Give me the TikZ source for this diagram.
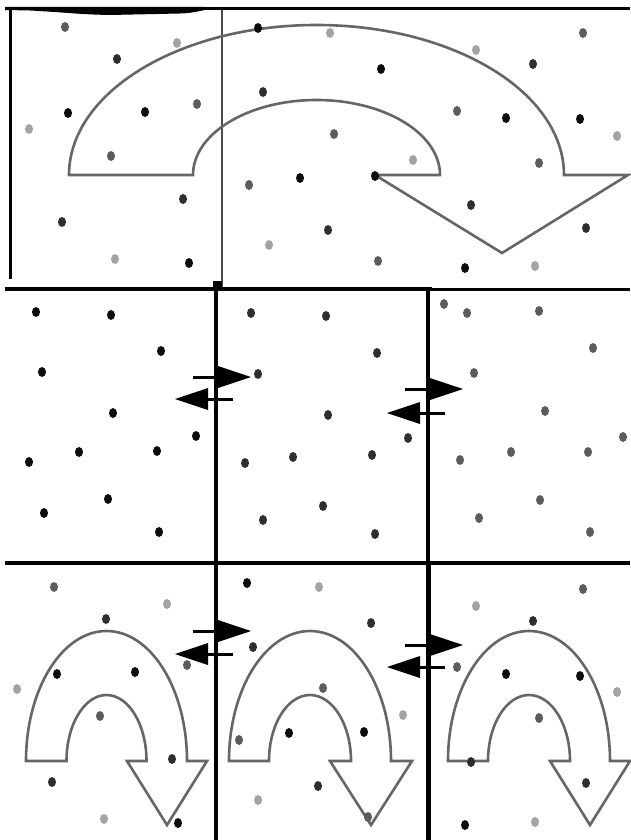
\documentclass[tikz,border=0pt]{standalone}
\definecolor{dk}{HTML}{0D0D0D}
\definecolor{dd}{HTML}{2E2E2E}
\definecolor{dm}{HTML}{5C5C5C}
\definecolor{dl}{HTML}{A3A3A3}
\definecolor{arrowgray}{HTML}{666666}
\tikzset{
  bigarrow/.style={draw=arrowgray, line width=2.6pt, line join=miter},
  exline/.style={line width=3pt, black},
}
\newcommand\dotk[3]{\fill[#1] (#2,#3) ellipse [x radius=4pt, y radius=5pt];}
\newcommand\exchpair[3]{%
  \draw[exline] (#1-23,#2) -- (#1+10,#2);
  \fill (#1+2,#2-11) -- (#1+35,#2) -- (#1+2,#2+11) -- cycle;
  \draw[exline] (#1-12,#3) -- (#1+17,#3);
  \fill (#1-41,#3) -- (#1-8,#3-11) -- (#1-8,#3+11) -- cycle;
}
\begin{document}
\begin{tikzpicture}[x=1pt,y=-1pt]
\fill[white] (0,0) rectangle (630,840);
\useasboundingbox (0,0) rectangle (630,840);

% ---- frame lines ----
\draw[line width=3.5pt] (5,8.5) -- (630,8.5);
\fill (5,7) -- (205,7) -- (205,10) .. controls (190,13) .. (180,13.5)
  -- (110,15) .. controls (80,14.5) and (60,12) .. (30,10.5) -- (5,10) -- cycle;
\draw[line width=3pt] (10,9) -- (10,279);
\draw[line width=1.2pt, black!70] (222,10) -- (222,287);
\draw[line width=4pt] (5,289) -- (432,289);
\draw[line width=3pt] (432,289.5) -- (630,289.5);
\fill (213,281) rectangle (222,289);
\draw[line width=4.5pt] (5,563) -- (105,563);
\draw[line width=3.5pt] (105,563) -- (630,563);
\draw[line width=3.5pt] (216,282) -- (216,840);
\draw[line width=4pt] (428,289) -- (428,563);
\draw[line width=5pt] (428,563) -- (428,840);

% ---- curved arrows ----
\draw[bigarrow] (193,175) -- (69,175)
  arc[start angle=180,end angle=0,x radius=247.5pt,y radius=150pt]
  -- (628,175) -- (502,253) -- (375,175) -- (440,175)
  arc[start angle=0,end angle=180,x radius=123.5pt,y radius=75pt] -- cycle;

\draw[bigarrow] (66.5,761) -- (26,761)
  arc[start angle=180,end angle=0,x radius=80.5pt,y radius=130pt]
  -- (207,761) -- (167,825) -- (127,761) -- (146.5,761)
  arc[start angle=0,end angle=180,x radius=40pt,y radius=66pt] -- cycle;

\draw[bigarrow] (269,761) -- (229,761)
  arc[start angle=180,end angle=0,x radius=81pt,y radius=130pt]
  -- (412,761) -- (371,825) -- (330,761) -- (351,761)
  arc[start angle=0,end angle=180,x radius=41pt,y radius=66pt] -- cycle;

\draw[bigarrow] (488,761) -- (448,761)
  arc[start angle=180,end angle=0,x radius=81pt,y radius=130pt]
  -- (630,761) -- (590,825) -- (550,761) -- (570,761)
  arc[start angle=0,end angle=180,x radius=41pt,y radius=66pt] -- cycle;

% ---- dots: top panel ----
\dotk{dm}{65}{27}\dotk{dl}{177}{43}\dotk{dd}{117}{59}\dotk{dk}{68}{113}
\dotk{dk}{145}{112}\dotk{dm}{197}{104}\dotk{dl}{29}{129}\dotk{dm}{111}{156}
\dotk{dd}{183}{199}\dotk{dd}{62}{222}\dotk{dl}{115}{259}\dotk{dk}{189}{263}
\dotk{dk}{258}{28}\dotk{dd}{263}{92}\dotk{dm}{249}{185}\dotk{dk}{300}{178}
\dotk{dl}{269}{245}
\dotk{dl}{330}{33}\dotk{dk}{381}{69}\dotk{dl}{476}{50}\dotk{dm}{583}{33}
\dotk{dd}{533}{64}\dotk{dm}{457}{111}\dotk{dk}{506}{118}\dotk{dk}{580}{119}
\dotk{dl}{617}{136}\dotk{dm}{334}{134}\dotk{dl}{413}{160}\dotk{dk}{375}{176}
\dotk{dm}{539}{163}\dotk{dd}{471}{205}\dotk{dd}{328}{230}\dotk{dd}{586}{228}
\dotk{dm}{378}{261}\dotk{dk}{465}{268}\dotk{dl}{535}{266}

% ---- dots: middle panel ----
\dotk{dk}{36}{312}\dotk{dk}{111}{315}\dotk{dk}{161}{351}\dotk{dk}{42}{372}
\dotk{dk}{113}{413}\dotk{dk}{196}{436}\dotk{dk}{79}{452}\dotk{dk}{157}{451}
\dotk{dk}{29}{462}\dotk{dk}{108}{499}\dotk{dk}{44}{513}\dotk{dk}{159}{532}
\dotk{dd}{251}{313}\dotk{dd}{258}{374}\dotk{dd}{245}{463}\dotk{dd}{293}{457}
\dotk{dd}{263}{520}\dotk{dd}{326}{316}\dotk{dd}{377}{353}\dotk{dd}{328}{415}
\dotk{dd}{408}{438}\dotk{dd}{372}{455}\dotk{dd}{323}{506}\dotk{dd}{375}{534}
\dotk{dm}{444}{304}\dotk{dm}{467}{313}\dotk{dm}{539}{311}\dotk{dm}{593}{348}
\dotk{dm}{474}{373}\dotk{dm}{545}{411}\dotk{dm}{623}{437}\dotk{dm}{511}{452}
\dotk{dm}{588}{452}\dotk{dm}{460}{460}\dotk{dm}{540}{500}\dotk{dm}{479}{518}
\dotk{dm}{590}{532}

% ---- dots: bottom panel ----
\dotk{dm}{54}{587}\dotk{dl}{167}{604}\dotk{dd}{106}{619}\dotk{dk}{57}{674}
\dotk{dk}{135}{672}\dotk{dm}{187}{665}\dotk{dl}{17}{689}\dotk{dm}{100}{716}
\dotk{dd}{172}{759}\dotk{dd}{52}{782}\dotk{dl}{104}{819}\dotk{dk}{178}{823}
\dotk{dk}{247}{583}\dotk{dd}{253}{647}\dotk{dm}{239}{740}\dotk{dk}{289}{733}
\dotk{dl}{258}{800}
\dotk{dl}{319}{587}\dotk{dd}{371}{623}\dotk{dm}{323}{688}\dotk{dl}{403}{715}
\dotk{dk}{364}{732}\dotk{dd}{318}{786}\dotk{dm}{368}{817}
\dotk{dl}{476}{606}\dotk{dm}{583}{589}\dotk{dd}{533}{621}\dotk{dm}{457}{667}
\dotk{dk}{506}{674}\dotk{dk}{580}{676}\dotk{dl}{617}{692}\dotk{dm}{539}{718}
\dotk{dd}{471}{762}\dotk{dd}{586}{783}\dotk{dk}{465}{825}\dotk{dl}{535}{822}

% ---- exchange arrows ----
\exchpair{216}{377}{399}
\exchpair{428}{389}{413}
\exchpair{216}{631}{654}
\exchpair{428}{645}{667}
\end{tikzpicture}
\end{document}
